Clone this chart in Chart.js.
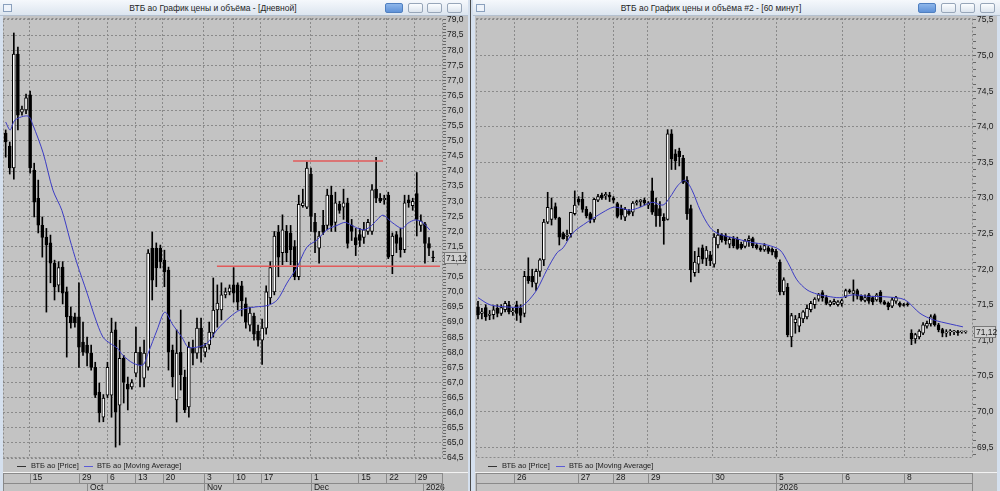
<!DOCTYPE html>
<html>
<head>
<meta charset="utf-8">
<title>ВТБ ао</title>
<script src="https://cdn.jsdelivr.net/npm/chart.js@4.4.1/dist/chart.umd.min.js"></script>
<style>
  body { margin:0; width:1000px; height:491px; overflow:hidden; background:#d5e0ee; position:relative;
         font-family:"Liberation Sans", Arial, sans-serif; }
  .frame { position:absolute; top:0; height:491px; background:#c3c3c3; }
  .title { position:absolute; top:0; height:16px; background:linear-gradient(#f5f8fc,#dce5ef); border-bottom:1px solid #b4c0cf;
           box-sizing:border-box; font-size:8.5px; line-height:16px; color:#1e1e1e; z-index:3; }
  .title .t { position:absolute; top:0; white-space:nowrap; transform:translateX(-50%); }
  .btn { position:absolute; top:3px; height:10px; width:15px; border:1px solid #97a6b9; border-radius:2px;
         background:linear-gradient(#fbfdff,#dde5ee); box-sizing:border-box; }
  .btn.pin { background:linear-gradient(#8db6ea,#5f92d8); border-color:#4f7fc0; width:18px; }
  .icon { position:absolute; left:3px; top:4px; width:9px; height:8px; border:1px solid #8aa0bd; background:#eef3fa; box-sizing:border-box; }
  .box { position:absolute; top:0; height:491px; }
  .lg { position:absolute; top:461px; height:10px; font-size:7.5px; line-height:10px; color:#222; z-index:3; white-space:nowrap; }
  .sw { position:absolute; top:466px; height:1px; width:9px; z-index:3; }
  .sep { position:absolute; top:0; width:1px; height:491px; background:#4a4a4a; left:470px; }
</style>
</head>
<body>
<div class="frame" style="left:3px;width:465px"></div>
<div class="frame" style="left:475px;width:522px"></div>
<div class="sep"></div>

<div class="box" style="left:3px;width:465px"><canvas id="daily"></canvas></div>
<div class="box" style="left:475px;width:522px"><canvas id="hourly"></canvas></div>

<div class="title" style="left:0;width:468px">
  <div class="icon"></div>
  <span class="t" style="left:213px">ВТБ ао График цены и объёма - [Дневной]</span>
  <div class="btn pin" style="left:385px"></div>
  <div class="btn" style="left:408px"></div>
  <div class="btn" style="left:427px"></div>
  <div class="btn" style="left:447px"></div>
</div>
<div class="title" style="left:473px;width:527px">
  <div class="icon"></div>
  <span class="t" style="left:238px">ВТБ ао График цены и объёма #2 - [60 минут]</span>
  <div class="btn pin" style="left:445px"></div>
  <div class="btn" style="left:468px"></div>
  <div class="btn" style="left:487px"></div>
  <div class="btn" style="left:507px"></div>
</div>

<div class="sw" style="left:17px;background:#333"></div>
<div class="lg" style="left:31px">ВТБ ао [Price]</div>
<div class="sw" style="left:84px;background:#5b5bd6"></div>
<div class="lg" style="left:97px">ВТБ ао [Moving Average]</div>
<div class="sw" style="left:488px;background:#333"></div>
<div class="lg" style="left:502px">ВТБ ао [Price]</div>
<div class="sw" style="left:556px;background:#5b5bd6"></div>
<div class="lg" style="left:569px">ВТБ ао [Moving Average]</div>

<script>
// daily candles: [open, high, low, close]
var dailyOHLC = [
  [75.26,75.36,74.46,74.96],[74.83,74.96,73.9,74.1],[74.1,78.57,73.73,77.87],[77.87,78.1,75.36,75.85],
  [75.95,76.15,75.85,76.05],[76.02,76.55,75.9,76.42],[76.52,76.65,73.93,74.1],[74.03,74.26,72.48,72.97],
  [73.1,73.7,71.95,72.21],[72.2,72.48,71.15,71.8],[71.81,72.1,69.33,71.55],[71.62,71.88,70.3,70.95],
  [70.95,71.05,69.73,70.16],[70.22,71.0,70.0,70.8],[70.82,71.0,69.6,69.96],[70.0,70.16,67.84,69.17],
  [69.2,69.5,68.8,68.97],[69.17,69.3,68.83,68.97],[69.17,70.3,67.5,68.17],[68.34,69.0,67.9,68.0],
  [68.24,68.5,67.55,67.97],[67.97,68.24,67.41,67.5],[67.5,67.67,66.5,66.58],[66.68,66.98,65.69,65.99],
  [65.85,66.6,65.7,66.48],[66.58,67.67,66.5,67.5],[66.58,69.13,65.85,68.67],[68.74,69.0,64.86,66.02],
  [66.25,68.4,64.93,67.8],[67.8,67.9,66.32,67.0],[66.95,67.18,66.09,66.78],[66.85,67.1,66.78,67.0],
  [67.31,68.83,67.18,68.0],[68.0,68.17,66.85,67.58],[67.14,68.4,66.85,67.97],[67.51,71.4,67.41,71.28],
  [71.45,71.98,69.73,70.39],[71.45,71.62,70.17,70.79],[71.45,71.55,70.79,70.99],[71.05,71.38,70.17,70.66],
  [70.72,70.82,67.41,68.0],[68.07,68.24,66.85,67.18],[66.42,68.74,65.69,67.97],[68.0,69.4,66.75,67.25],
  [67.18,67.41,66.0,66.09],[66.19,68.34,65.85,68.17],[68.14,68.4,67.58,67.97],[67.97,69.13,67.8,68.8],
  [68.8,69.13,67.67,68.14],[68.0,68.3,67.85,68.17],[68.24,69.0,68.1,68.67],[68.64,70.46,68.5,69.4],
  [69.4,70.23,68.83,69.63],[69.4,70.3,69.07,69.9],[69.9,70.13,69.8,70.0],[70.0,70.23,69.9,70.13],
  [70.23,70.8,69.66,69.96],[70.23,70.3,69.4,69.66],[70.2,70.35,69.2,69.7],[69.6,69.8,68.8,69.0],
  [68.9,69.5,68.7,69.3],[69.2,69.3,68.4,68.6],[68.7,68.9,68.2,68.4],[68.4,69.1,67.6,68.8],
  [68.8,70.2,68.6,70.0],[69.8,71.0,69.6,70.8],[70.0,72.0,69.9,71.85],[71.98,72.2,70.5,71.15],
  [71.3,72.55,70.9,72.05],[72.0,72.2,71.0,71.3],[71.95,72.2,70.9,71.4],[71.5,71.7,70.4,70.5],
  [70.5,73.2,70.4,72.9],[72.85,73.4,72.8,72.95],[72.8,74.3,72.75,74.1],[73.9,74.1,72.0,72.5],
  [72.3,72.6,71.3,71.98],[71.45,72.0,70.95,71.85],[72.2,72.7,71.9,71.98],[72.2,73.4,72.05,73.2],
  [73.2,73.5,72.0,72.2],[72.3,73.3,72.0,72.95],[72.9,73.0,72.6,72.7],[72.8,73.4,72.4,72.95],
  [72.95,73.1,71.45,71.6],[72.2,72.4,71.7,72.0],[71.8,72.1,71.2,71.55],[71.9,72.1,71.5,71.7],
  [71.8,72.3,71.6,72.05],[72.0,72.4,71.9,72.3],[72.0,73.55,71.9,73.38],[73.4,74.45,72.95,73.1],
  [73.1,73.25,72.95,73.0],[73.05,73.2,72.9,73.1],[73.2,73.3,71.1,71.15],[71.2,71.95,70.6,71.85],
  [71.9,72.0,71.3,71.6],[71.8,72.1,71.15,71.4],[71.4,73.2,71.3,72.95],[73.05,73.2,72.8,72.95],
  [72.85,73.1,72.7,73.0],[73.25,73.95,71.85,72.4],[72.2,72.55,72.0,72.35],[72.25,72.3,70.95,71.6],
  [71.6,71.8,71.2,71.45],[71.15,71.35,71.0,71.12]
];
// daily moving average: [candle index, value]
var dailyMA = [
  [0,75.62],[1.1,75.36],[2.3,75.69],[5.5,75.82],[6.7,75.52],[9.2,74.6],[11.6,73.37],[13.8,72.7],
  [15.8,71.72],[17.5,70.95],[20,69.96],[21.9,69.17],[23.9,68.5],[25.6,68.3],[27.4,68.14],[28.8,67.9],
  [31.3,67.64],[33.7,67.58],[35,67.97],[37.2,68.74],[39.1,69.33],[41.1,68.9],[43.3,68.5],[44.8,68.17],
  [47,68.17],[49.5,68.3],[51.9,68.74],[55.1,69.17],[57.6,69.4],[61.3,69.5],[64.4,69.55],[66.7,69.73],
  [69.1,70.29],[71.6,70.82],[74,71.48],[76.5,71.72],[78.9,72.05],[81.4,72.2],[83.4,72.3],[85.3,72.18],
  [87.8,72.05],[89.5,72.15],[91.2,72.38],[92.7,72.54],[94.9,72.3],[97.4,72.1],[98.8,72.27],[100.6,72.38],
  [102.3,72.31],[104.2,72.05]
];
// red support / resistance lines: [from index, to index, price]
var dailyLevels = [[70.6, 92.7, 74.33], [51.9, 106.7, 70.85]];
var dailyDayTicks = [5.9, 18, 24.9, 31.8, 38.6, 48.7, 55.9, 62.7, 75, 86.6, 93.5, 100.5];
var dailyDayLabels = ['15','29','6','13','20','3','10','17','1','15','22','29'];
var dailyMonthTicks = [20, 48.7, 75, 102.5];
var dailyMonthLabels = ['Oct','Nov','Dec','2026'];

// hourly candles: [open, high, low, close]
var hourlyOHLC = [
  [71.47,71.55,71.3,71.36],[71.38,71.45,71.3,71.4],[71.46,71.5,71.28,71.33],[71.35,71.42,71.29,71.37],
  [71.36,71.48,71.3,71.43],[71.45,71.5,71.33,71.38],[71.38,71.5,71.35,71.46],[71.43,71.55,71.4,71.52],
  [71.5,71.55,71.37,71.4],[71.4,71.45,71.35,71.41],[71.5,71.55,71.28,71.38],[71.45,71.5,71.25,71.35],
  [71.38,71.97,71.33,71.9],[71.9,72.16,71.8,71.84],[71.9,72.0,71.75,71.82],[71.8,72.0,71.7,71.97],
  [71.97,72.15,71.9,72.13],[72.13,72.7,72.05,72.66],[72.66,73.08,72.64,72.87],[72.7,73.0,72.62,72.85],
  [72.88,72.93,72.7,72.72],[72.72,72.73,72.34,72.45],[72.5,72.52,72.42,72.43],[72.46,72.55,72.4,72.48],
  [72.5,72.8,72.45,72.8],[72.78,73.1,72.76,72.9],[72.98,73.02,72.9,72.94],[72.98,73.08,72.8,72.84],
  [72.84,72.88,72.72,72.75],[72.78,72.8,72.65,72.7],[72.7,73.0,72.66,72.98],[72.97,73.05,72.95,73.02],
  [73.04,73.07,72.98,73.0],[73.03,73.08,72.98,73.05],[73.04,73.08,72.95,73.02],[73.0,73.02,72.93,72.97],
  [72.92,72.94,72.72,72.74],[72.85,72.9,72.7,72.76],[72.73,72.87,72.68,72.84],[72.82,72.84,72.76,72.78],
  [72.8,72.95,72.75,72.93],[72.93,72.97,72.9,72.95],[72.95,72.98,72.88,72.97],[72.97,73.0,72.9,72.93],
  [72.9,72.95,72.85,72.93],[73.1,73.28,72.77,72.8],[72.9,73.0,72.6,72.75],[72.85,72.95,72.6,72.75],
  [72.73,72.78,72.35,72.68],[72.7,73.96,72.69,73.9],[73.9,73.96,73.4,73.55],[73.62,73.68,73.4,73.52],
  [73.66,73.7,73.45,73.58],[73.56,73.6,73.2,73.22],[73.25,73.3,72.7,72.78],[72.85,72.9,71.82,71.99],
  [71.95,72.25,71.9,72.1],[72.07,72.3,71.95,72.18],[72.3,72.34,72.08,72.14],[72.15,72.32,72.05,72.27],
  [72.2,72.25,72.05,72.12],[72.07,72.5,72.03,72.45],[72.34,72.56,72.3,72.48],[72.48,72.5,72.38,72.41],
  [72.47,72.5,72.35,72.4],[72.35,72.45,72.3,72.42],[72.43,72.46,72.3,72.33],[72.42,72.45,72.28,72.29],
  [72.35,72.38,72.28,72.3],[72.32,72.42,72.3,72.4],[72.4,72.47,72.32,72.43],[72.43,72.45,72.3,72.33],
  [72.34,72.36,72.28,72.3],[72.3,72.33,72.25,72.27],[72.27,72.36,72.25,72.33],[72.3,72.32,72.22,72.25],
  [72.28,72.3,72.2,72.24],[72.25,72.28,72.15,72.17],[72.1,72.13,71.64,71.68],[71.68,71.88,71.64,71.85],
  [71.75,71.8,71.05,71.08],[71.05,71.38,70.91,71.35],[71.25,71.35,71.1,71.3],[71.2,71.38,71.12,71.32],
  [71.3,71.42,71.25,71.4],[71.33,71.5,71.3,71.45],[71.43,71.55,71.4,71.52],[71.5,71.6,71.45,71.58],
  [71.58,71.66,71.55,71.64],[71.67,71.7,71.55,71.6],[71.6,71.63,71.5,71.52],[71.5,71.56,71.48,71.54],
  [71.52,71.58,71.5,71.55],[71.5,71.56,71.48,71.54],[71.52,71.58,71.48,71.56],[71.62,71.72,71.6,71.7],
  [71.7,71.72,71.66,71.68],[71.66,71.85,71.55,71.7],[71.7,71.72,71.58,71.62],[71.62,71.64,71.55,71.57],
  [71.56,71.64,71.54,71.6],[71.64,71.66,71.52,71.55],[71.6,71.62,71.5,71.54],[71.57,71.66,71.55,71.64],
  [71.68,71.7,71.52,71.54],[71.54,71.56,71.5,71.51],[71.52,71.54,71.43,71.47],[71.48,71.6,71.46,71.57],
  [71.55,71.62,71.52,71.6],[71.52,71.54,71.47,71.49],[71.5,71.52,71.48,71.49],[71.51,71.53,71.48,71.5],
  [71.1,71.15,70.94,71.02],[71.02,71.1,70.96,71.08],[71.05,71.15,71.02,71.13],[71.1,71.25,71.08,71.22],
  [71.2,71.27,71.17,71.24],[71.23,71.36,71.2,71.33],[71.35,71.37,71.2,71.22],[71.22,71.24,71.12,71.15],
  [71.15,71.17,71.05,71.1],[71.1,71.15,71.05,71.12],[71.12,71.15,71.07,71.13],[71.12,71.14,71.08,71.12],
  [71.12,71.14,71.07,71.11],[71.12,71.13,71.1,71.12],[71.12,71.13,71.1,71.12]
];
var hourlyMA = [
  [0,71.6],[3.1,71.5],[7.5,71.47],[10.9,71.47],[12.7,71.54],[15.2,71.71],[17.8,71.99],[20.4,72.23],
  [22,72.3],[24.5,72.51],[28.2,72.66],[32.3,72.8],[34.9,72.87],[36.7,72.86],[39.3,72.83],[41.9,72.87],
  [45,72.94],[47.8,72.9],[49.6,73.01],[51.7,73.18],[53.5,73.25],[55.3,73.11],[57.4,72.83],[59.9,72.59],
  [62,72.5],[65.9,72.44],[70.3,72.38],[74.7,72.34],[78,72.27],[80.1,72.09],[82.4,71.85],[85,71.71],
  [87.6,71.65],[90.2,71.62],[93.5,71.6],[96.9,71.64],[100.5,71.62],[105.7,71.61],[110.3,71.57],
  [114.2,71.38],[117.6,71.29],[122,71.23],[125.3,71.19]
];
var hourlyLevels = [];
var hourlyDayTicks = [9.3, 25.8, 34.9, 43.9, 60.5, 77.0, 94.1, 110.1];
var hourlyDayLabels = ['26','27','28','29','30','5','6','8'];
var hourlyMonthTicks = [77.0];
var hourlyMonthLabels = ['2026'];

var lastPrice = 71.12;

function fmt(v, d) { return v.toFixed(d).replace('.', ','); }
function isMajor(v) { return Math.abs(v * 2 - Math.round(v * 2)) < 1e-6; }

var frameBorder = {
  id: 'frameBorder',
  beforeDatasetsDraw: function (chart) {
    var a = chart.chartArea, ctx = chart.ctx;
    ctx.save();
    ctx.strokeStyle = '#8a8a8a';
    ctx.lineWidth = 1;
    ctx.setLineDash([2, 2]);
    ctx.strokeRect(a.left + 0.5, a.top + 0.5, a.right - a.left - 1, a.bottom - a.top - 1);
    ctx.restore();
  }
};

var strip = {
  id: 'strip',
  afterDraw: function (chart) {
    var a = chart.chartArea, ctx = chart.ctx, sx = chart.scales.x, o = chart.options.plugins.strip;
    ctx.save();
    ctx.strokeStyle = '#f2f2f2';
    ctx.beginPath(); ctx.moveTo(0, 472.5); ctx.lineTo(chart.width, 472.5); ctx.stroke();
    ctx.strokeStyle = '#8a8a8a';
    ctx.beginPath();
    ctx.moveTo(a.left, 473.5); ctx.lineTo(a.right, 473.5);
    ctx.moveTo(a.left, 483.5); ctx.lineTo(a.right, 483.5);
    ctx.moveTo(a.left + 0.5, 473); ctx.lineTo(a.left + 0.5, 491);
    ctx.moveTo(a.right - 0.5, 473); ctx.lineTo(a.right - 0.5, 491);
    o.days.forEach(function (v) {
      var px = Math.round(sx.getPixelForValue(v)) + 0.5;
      ctx.moveTo(px, 473); ctx.lineTo(px, 483);
    });
    o.months.forEach(function (v) {
      var px = Math.round(sx.getPixelForValue(v)) + 0.5;
      ctx.moveTo(px, 484); ctx.lineTo(px, 491);
    });
    ctx.stroke();
    // last price tag on the value axis
    var y = Math.round(chart.scales.y.getPixelForValue(o.last));
    var x = a.right + 1;
    ctx.fillStyle = '#d0d0d0';
    ctx.fillRect(x, y - 6, 22, 12);
    ctx.strokeStyle = '#7a7a7a';
    ctx.strokeRect(x + 0.5, y - 5.5, 21, 11);
    ctx.fillStyle = '#1a1a1a';
    ctx.font = '8.5px "Liberation Sans"';
    ctx.textBaseline = 'middle';
    ctx.fillText(fmt(o.last, 2), x + 2, y + 0.5);
    ctx.restore();
  }
};

function buildChart(id, cfg) {
  var bodies = cfg.ohlc.map(function (c, i) { return { x: i, y: [c[0], c[3]] }; });
  var wicks = cfg.ohlc.map(function (c, i) { return { x: i, y: [c[2], c[1]] }; });
  var fills = cfg.ohlc.map(function (c) { return c[3] >= c[0] ? '#ffffff' : '#000000'; });
  var datasets = [{
    type: 'line', label: 'ВТБ ао [Moving Average]',
    data: cfg.ma.map(function (p) { return { x: p[0], y: p[1] }; }),
    borderColor: '#3c3cc4', borderWidth: 1, pointRadius: 0, tension: 0.3, order: 0
  }];
  cfg.levels.forEach(function (l) {
    datasets.push({
      type: 'line', data: [{ x: l[0], y: l[2] }, { x: l[1], y: l[2] }],
      borderColor: '#e25a5a', borderWidth: 1.5, pointRadius: 0, order: 0
    });
  });
  datasets.push({
    type: 'bar', label: 'ВТБ ао [Price]', data: bodies, backgroundColor: fills,
    borderColor: '#000', borderWidth: 1, borderSkipped: false, barThickness: cfg.body,
    grouped: false, minBarLength: 1, order: 1
  });
  datasets.push({
    type: 'bar', data: wicks, backgroundColor: '#000', barThickness: 1,
    grouped: false, order: 2
  });

  var yTicks = [];
  for (var k = Math.round(cfg.yLow * 10); k <= Math.round(cfg.yHigh * 10); k += cfg.minorStep) yTicks.push(k / 10);
  var tickFont = { family: 'Liberation Sans', size: 8.5 };

  return new Chart(document.getElementById(id), {
    type: 'bar',
    data: { datasets: datasets },
    options: {
      responsive: true,
      maintainAspectRatio: false,
      animation: false,
      layout: { padding: { left: cfg.padLeft, top: 18, right: 0, bottom: 0 } },
      plugins: {
        legend: { display: false },
        tooltip: { enabled: false },
        strip: { days: cfg.dayTicks, months: cfg.monthTicks, last: lastPrice }
      },
      scales: {
        x: {
          type: 'linear', min: cfg.xMin, max: cfg.xMax, offset: false, position: 'bottom',
          afterBuildTicks: function (s) { s.ticks = cfg.dayTicks.map(function (v) { return { value: v }; }); },
          afterFit: function (s) { s.height = 25; },
          ticks: {
            autoSkip: false, maxRotation: 0, align: 'start', labelOffset: 3, padding: 15,
            color: '#1a1a1a', font: tickFont,
            callback: function (v, i) { return cfg.dayLabels[i]; }
          },
          grid: { color: '#8a8a8a', lineWidth: 1, drawTicks: false, offset: false, borderDash: [2, 2] },
          border: { display: false, dash: [2, 2] }
        },
        x2: {
          type: 'linear', min: cfg.xMin, max: cfg.xMax, offset: false, position: 'bottom',
          afterBuildTicks: function (s) { s.ticks = cfg.monthTicks.map(function (v) { return { value: v }; }); },
          afterFit: function (s) { s.height = 8; },
          ticks: {
            autoSkip: false, maxRotation: 0, align: 'start', labelOffset: 3, padding: 0,
            color: '#1a1a1a', font: tickFont,
            callback: function (v, i) { return cfg.monthLabels[i]; }
          },
          grid: { display: false, drawTicks: false },
          border: { display: false }
        },
        y: {
          type: 'linear', position: 'right', min: cfg.yMin, max: cfg.yMax,
          afterBuildTicks: function (s) { s.ticks = yTicks.map(function (v) { return { value: v }; }); },
          afterFit: function (s) { s.width = cfg.yWidth; },
          ticks: {
            autoSkip: false, padding: 1, color: '#1a1a1a', font: tickFont,
            callback: function (v) { return isMajor(v) ? fmt(v, 1) : ''; }
          },
          grid: {
            color: function (c) { return c.tick && isMajor(c.tick.value) ? '#8a8a8a' : 'rgba(0,0,0,0)'; },
            tickColor: '#666', tickLength: 3, tickBorderDash: [], borderDash: [2, 2]
          },
          border: { display: false, dash: [2, 2] }
        }
      }
    },
    plugins: [frameBorder, strip]
  });
}

buildChart('daily', {
  ohlc: dailyOHLC, ma: dailyMA, levels: dailyLevels,
  dayTicks: dailyDayTicks, dayLabels: dailyDayLabels, monthTicks: dailyMonthTicks, monthLabels: dailyMonthLabels,
  xMin: -0.66, xMax: 107.44, yMin: 64.5, yMax: 79.066, yLow: 64.5, yHigh: 79.0, minorStep: 1,
  yWidth: 25, padLeft: 0, body: 3
});
buildChart('hourly', {
  ohlc: hourlyOHLC, ma: hourlyMA, levels: hourlyLevels,
  dayTicks: hourlyDayTicks, dayLabels: hourlyDayLabels, monthTicks: hourlyMonthTicks, monthLabels: hourlyMonthLabels,
  xMin: -0.52, xMax: 127.9, yMin: 69.348, yMax: 75.528, yLow: 69.4, yHigh: 75.5, minorStep: 1,
  yWidth: 24, padLeft: 1, body: 3
});
</script>
</body>
</html>
